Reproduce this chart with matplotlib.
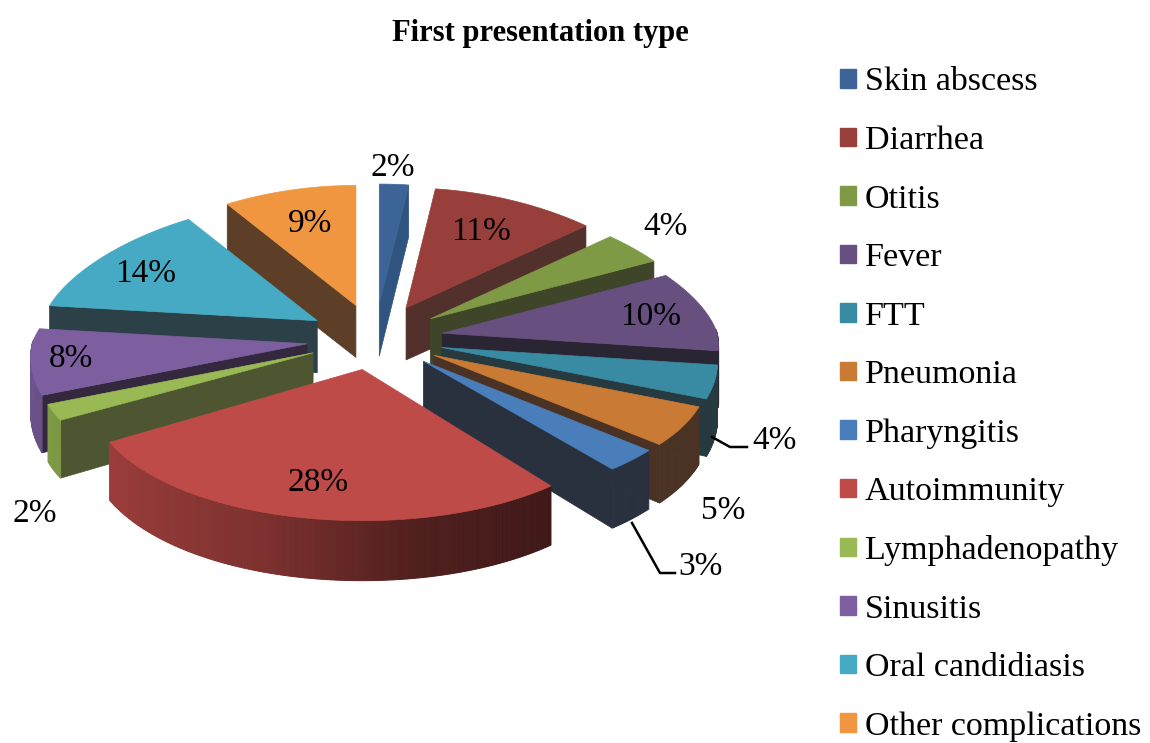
import numpy as np
import matplotlib
matplotlib.use("Agg")
import matplotlib.pyplot as plt
from matplotlib.patches import Patch, Polygon

plt.rcParams['font.family'] = ['Liberation Serif', 'DejaVu Serif']

TITLE = "First presentation type"
categories = ["Skin abscess", "Diarrhea", "Otitis", "Fever", "FTT", "Pneumonia",
              "Pharyngitis", "Autoimmunity", "Lymphadenopathy", "Sinusitis",
              "Oral candidiasis", "Other complications"]
values = [2, 11, 4, 10, 4, 5, 3, 28, 2, 8, 14, 9]
top_colors = ["#3c6496", "#983f3c", "#7f9a45", "#674f80", "#398ba3", "#c97a35",
              "#4a7ebb", "#be4b48", "#98b954", "#7d5fa0", "#46aac4", "#f09640"]
cut_colors = ["#2f5480", "#52302c", "#3e4528", "#2a2533", "#263a40", "#4a3324",
              "#29313f", "#52302c", "#4d5630", "#34283f", "#2c4048", "#5d3f28"]
label_centers = [(393, 168), (481, 232), (666, 227), (651, 317), (775, 441), (723, 511),
                 (701, 567), (318, 483), (35, 514), (71, 359), (146, 274), (310, 224)]
y_stretch = [1, 1, 1, 1, 1, 1, 1, 1.08, 1, 1, 1, 1]

CX, CY = 375, 340
EXPLODE = 0.24


def project(X, Y, z=0.0):
    """World pie coordinates (unit circle, Y towards the back) to pixels."""
    X, Y = np.asarray(X, float), np.asarray(Y, float)
    a = np.where(Y > 0, 275 * (1 - 0.15 * Y), 275 * (1 - 0.1 * Y))
    b = np.where(Y > 0, 120.0, 140.0)
    return a * X, -b * Y, z * (56 - 4 * Y)


def shade(color, f):
    return tuple(np.array(matplotlib.colors.to_rgb(color)) * f)


fig = plt.figure(figsize=(11.5, 7.43), dpi=100)
ax = fig.add_axes([0, 0, 1, 1])
ax.set_xlim(0, 1150)
ax.set_ylim(743, 0)
ax.axis("off")

fractions = np.array(values) / sum(values)
ends = np.cumsum(fractions) * 360
starts = ends - fractions * 360
mids = (starts + ends) / 2
order = np.argsort(-np.cos(np.radians(mids)))

for i in order:
    m = np.radians(mids[i])
    ax_ = CX + EXPLODE * 285 * np.sin(m)
    c = np.cos(m)
    ay_ = CY + (EXPLODE * 150 * -c if c > 0 else EXPLODE * 125 * -c)
    th = np.radians(np.linspace(starts[i], ends[i], max(6, int(ends[i] - starts[i]) * 2)))
    X, Y = np.sin(th), np.cos(th)
    dx, dy, dz = project(X, Y, 1.0)
    dy = dy * y_stretch[i]
    ox, oy = ax_ + dx, ay_ + dy

    # cut faces turned towards the viewer
    for edge, ang in ((0, th[0]), (-1, th[-1])):
        facing = (edge == 0 and np.sin(ang) < 0) or (edge == -1 and np.sin(ang) > 0)
        if facing:
            poly = [(ax_, ay_), (ox[edge], oy[edge]), (ox[edge], oy[edge] + dz[edge]), (ax_, ay_ + 52)]
            ax.add_patch(Polygon(poly, closed=True, fc=cut_colors[i], ec=cut_colors[i], lw=0.5))

    # rim
    deg = np.degrees(th)
    for k in range(len(th) - 1):
        if np.cos(th[k]) > 0.03 and np.cos(th[k + 1]) > 0.03:
            continue
        md = (deg[k] + deg[k + 1]) / 2
        if md < 141 and top_colors[i] != top_colors[7]:
            col = cut_colors[i]
        else:
            f = np.interp(md, [140, 170, 200, 241, 270], [0.32, 0.42, 0.66, 0.82, 0.88])
            col = shade(top_colors[i], f)
        poly = [(ox[k], oy[k]), (ox[k + 1], oy[k + 1]), (ox[k + 1], oy[k + 1] + dz[k + 1]), (ox[k], oy[k] + dz[k])]
        ax.add_patch(Polygon(poly, closed=True, fc=col, ec=col, lw=0.7))

    # top face
    poly = [(ax_, ay_)] + list(zip(ox, oy))
    ax.add_patch(Polygon(poly, closed=True, fc=top_colors[i], ec=top_colors[i], lw=0.5))

# leader lines
ax.plot([712, 730, 747], [437, 447, 447], color="black", lw=1.8, solid_joinstyle="round")
ax.plot([632, 660, 675], [523, 573, 573], color="black", lw=1.8, solid_joinstyle="round")

for v, (lx, ly) in zip(values, label_centers):
    ax.text(lx, ly, f"{v}%", ha="center", va="center", fontsize=24, color="black")

ax.text(540, 33, TITLE, ha="center", va="center", fontsize=22, fontweight="bold", color="black")

handles = [Patch(fc=c, ec=c, label=n) for c, n in zip(top_colors, categories)]
ax.legend(handles=handles, loc="upper left", bbox_to_anchor=(840 / 1150, 1 - 67 / 743),
          frameon=False, fontsize=24.5, handlelength=0.47, handleheight=0.47,
          handletextpad=0.26, borderpad=0, borderaxespad=0, labelspacing=0.823)

fig.savefig("out.png", dpi=100)
